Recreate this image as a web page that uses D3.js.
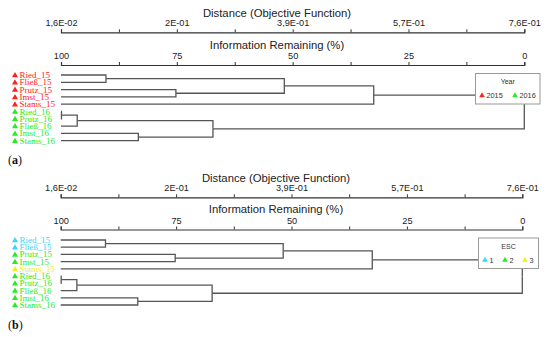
<!DOCTYPE html>
<html><head><meta charset="utf-8">
<script src="https://cdn.jsdelivr.net/npm/d3@7"></script>
<style>body{margin:0;background:#fff}svg{display:block}</style>
</head><body><svg id="c" width="550" height="337"></svg>
<script>
// ---- data ----
const leaves = ["Ried_15","Fließ_15","Prutz_15","Imst_15","Stams_15","Ried_16","Prutz_16","Fließ_16","Imst_16","Stams_16"];
const yearGroup = [2015,2015,2015,2015,2015,2016,2016,2016,2016,2016];
const escGroup = [1,1,2,2,3,2,2,2,2,2];
// merges: [child A, child B, information remaining (%)]; nodes 0-9 are leaves, merge k creates node 10+k
const mergeA = [0, 2, 10, 12, 5, 14, 8, 15, 13];
const mergeB = [1, 3, 11, 4, 6, 7, 9, 16, 17];
const mergeInfo = [90.3, 75.2, 51.8, 32.5, 99.9, 96.5, 83.3, 67.2, 0];
const infoTicks = [100, 87.5, 75, 62.5, 50, 37.5, 25, 12.5, 0];
const infoLabels = ["100", "", "75", "", "50", "", "25", "", "0"];
const distLabels = ["1,6E-02", "", "2E-01", "", "3,9E-01", "", "5,7E-01", "", "7,6E-01"];
const yearLegend = [2015, 2016];
const escLegend = [1, 2, 3];

const yearColor = d3.scaleOrdinal().domain(yearLegend).range(["#ff2020", "#22ee22"]);
const escColor = d3.scaleOrdinal().domain(escLegend).range(["#33d8ff", "#22ee22", "#f2ee20"]);

// build hierarchy
function buildRoot() {
  const nodes = leaves.map((n, i) => ({ name: n, idx: i, info: 100 }));
  mergeA.forEach((a, k) => {
    nodes.push({ name: "m" + k, info: mergeInfo[k], children: [nodes[a], nodes[mergeB[k]]] });
  });
  return d3.hierarchy(nodes[nodes.length - 1]);
}

const svg = d3.select("#c");

function panel(cfg) {
  const g = svg.append("g");
  const x = d3.scaleLinear().domain([100, 0]).range([cfg.x0, cfg.x1]);
  const y = d3.scalePoint().domain(leaves).range([cfg.leafY0, cfg.leafY1]);

  // axis titles
  g.append("text").attr("x", cfg.tx).attr("y", cfg.t1).attr("text-anchor", "middle")
    .attr("font-family", "Liberation Sans, Arial, sans-serif").attr("font-size", 11.3).attr("fill", "#222")
    .text("Distance (Objective Function)");
  g.append("text").attr("x", cfg.tx).attr("y", cfg.t2).attr("text-anchor", "middle")
    .attr("font-family", "Liberation Sans, Arial, sans-serif").attr("font-size", 11.3).attr("fill", "#222")
    .text("Information Remaining (%)");

  function drawAxis(yPos, labels) {
    const ax = d3.axisTop(x).tickValues(infoTicks).tickSize(3).tickPadding(3)
      .tickFormat((d, i) => labels[i]);
    const a = g.append("g").attr("transform", `translate(0,${yPos})`).call(ax);
    a.select(".domain").attr("stroke", "#333").attr("stroke-width", 1.2);
    a.selectAll(".tick line").attr("stroke", "#333");
    a.selectAll(".tick text").attr("font-family", "Liberation Sans, Arial, sans-serif")
      .attr("font-size", 9.2).attr("fill", "#222");
  }
  drawAxis(cfg.a1, distLabels);
  drawAxis(cfg.a2, infoLabels);

  // dendrogram layout
  const root = buildRoot();
  root.eachAfter(n => {
    n.px = x(n.data.info);
    if (n.children) n.py = (n.children[0].py + n.children[1].py) / 2;
    else n.py = y(n.data.name);
  });
  const links = [];
  root.each(n => { if (n.parent) links.push(n); });
  g.append("g").selectAll("path").data(links).join("path")
    .attr("d", n => `M${n.px},${n.py}H${n.parent.px}V${n.parent.py}`)
    .attr("fill", "none").attr("stroke", "#555").attr("stroke-width", 1.3);

  // leaf labels
  const lab = g.append("g").selectAll("g").data(leaves).join("g")
    .attr("transform", d => `translate(0,${y(d)})`);
  const tri = d3.symbol().type(d3.symbolTriangle).size(16);
  lab.append("path").attr("d", tri).attr("transform", "translate(15,0.5)")
    .attr("fill", (d, i) => cfg.color(cfg.group[i]));
  lab.append("text").attr("x", 19.5).attr("y", 3)
    .attr("font-family", "Liberation Serif, Times New Roman, serif").attr("font-size", 9)
    .attr("fill", (d, i) => cfg.color(cfg.group[i])).text(d => d);

  // legend
  const L = cfg.legend;
  const lg = g.append("g");
  lg.append("rect").attr("x", L.x).attr("y", L.y).attr("width", L.w).attr("height", L.h)
    .attr("fill", "#fff").attr("stroke", "#999").attr("stroke-width", 1);
  lg.append("text").attr("x", L.x + L.w / 2).attr("y", L.y + 10.5).attr("text-anchor", "middle")
    .attr("font-family", "Liberation Sans, Arial, sans-serif").attr("font-size", 7).attr("fill", "#333")
    .text(L.title);
  const it = lg.selectAll("g.it").data(L.items).join("g").attr("class", "it")
    .attr("transform", (d, i) => `translate(${L.itemX[i]},${L.y + L.h - 8.5})`);
  it.append("path").attr("d", d3.symbol().type(d3.symbolTriangle).size(14)).attr("fill", d => cfg.color(d));
  it.append("text").attr("x", 4.5).attr("y", 2.5)
    .attr("font-family", "Liberation Sans, Arial, sans-serif").attr("font-size", 7.3).attr("fill", "#333").text(d => d);

  // panel label
  g.append("text").attr("x", 8).attr("y", cfg.lab).attr("font-family", "Liberation Serif, Times New Roman, serif")
    .attr("font-size", 12).attr("fill", "#111")
    .selectAll("tspan").data(["(", cfg.letter, ")"]).join("tspan")
    .attr("font-weight", (d, i) => i === 1 ? "bold" : "normal").text(d => d);
}

panel({
  x0: 61, x1: 524.3, tx: 277, t1: 17.3, a1: 32.3, t2: 48.5, a2: 65, leafY0: 75, leafY1: 140.7,
  color: yearColor, group: yearGroup, lab: 164, letter: "a",
  legend: { x: 475.5, y: 73.5, w: 64.5, h: 30.5, title: "Year", items: yearLegend, itemX: [482, 515] }
});
panel({
  x0: 60.7, x1: 522.3, tx: 276, t1: 182.3, a1: 197.3, t2: 213.3, a2: 229.5, leafY0: 240, leafY1: 305,
  color: escColor, group: escGroup, lab: 329, letter: "b",
  legend: { x: 478.5, y: 238, w: 60, h: 30.5, title: "ESC", items: escLegend, itemX: [485, 505, 525] }
});
</script></body></html>
